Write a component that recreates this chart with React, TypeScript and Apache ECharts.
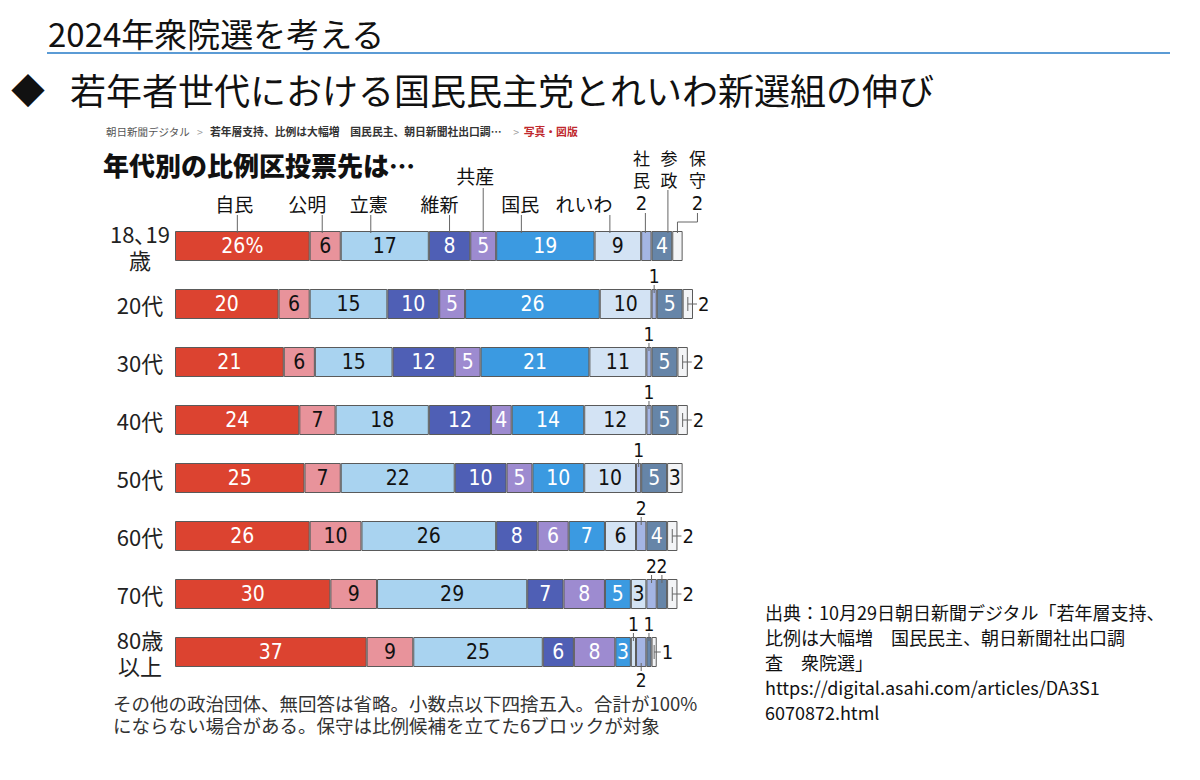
import React, { useEffect, useRef } from 'react';
import * as echarts from 'echarts';

// ---- data ----
const ageLabels = ['18､19\n歳', '20代', '30代', '40代', '50代', '60代', '70代', '80歳\n以上'];
const partyNames = ['自民', '公明', '立憲', '維新', '共産', '国民', 'れいわ', '社民', '参政', '保守'];
const jimin = [26, 20, 21, 24, 25, 26, 30, 37];
const komei = [6, 6, 6, 7, 7, 10, 9, 9];
const rikken = [17, 15, 15, 18, 22, 26, 29, 25];
const ishin = [8, 10, 12, 12, 10, 8, 7, 6];
const kyosan = [5, 5, 5, 4, 5, 6, 8, 8];
const kokumin = [19, 26, 21, 14, 10, 7, 5, 3];
const reiwa = [9, 10, 11, 12, 10, 6, 3, 1];
const shamin = [2, 1, 1, 1, 1, 2, 2, 2];
const sansei = [4, 5, 5, 5, 5, 4, 2, 1];
const hoshu = [2, 2, 2, 2, 3, 2, 2, 1];

const footnoteLines = [
  'その他の政治団体、無回答は省略。小数点以下四捨五入。合計が100%',
  'にならない場合がある。保守は比例候補を立てた6ブロックが対象',
];
const sourceLines = [
  '出典：10月29日朝日新聞デジタル「若年層支持、',
  '比例は大幅増　国民民主、朝日新聞社出口調',
  '査　衆院選」',
  'https://digital.asahi.com/articles/DA3S1',
  '6070872.html',
];

// ---- styles ----
const partyColors = ['#dc4330', '#e8939b', '#a9d3f0', '#4f5fb5', '#9d8bd0', '#3b9ae1', '#d3e3f4', '#a4b5e4', '#6685a8', '#f3f4f6'];
const labelColors = ['#fff', '#111', '#111', '#fff', '#fff', '#fff', '#111', '#111', '#fff', '#111'];
const NUM_FONT = "'Liberation Sans Narrow', 'Arial Narrow', 'DejaVu Sans Condensed', Roboto, sans-serif";
const JP_FONT = "'Noto Sans CJK JP', sans-serif";
// header label tweaks (pixels): leader-line offset from segment centre, label offset from line
const headLineDx = [-5, -3, -14, 0, 0, -24, -8, -1, 6, 0];
const headLabelDx = [-3, -15, -2, -10, -8, -1, -26, -4, 1, 0];

export default function App() {
  const ref = useRef<HTMLDivElement>(null);
  useEffect(() => {
    const chart = echarts.init(ref.current!, null, { renderer: 'svg' });
    const seriesData = [jimin, komei, rikken, ishin, kyosan, kokumin, reiwa, shamin, sansei, hoshu];

    chart.setOption({
      animation: false,
      backgroundColor: '#fff',
      grid: { left: 175, top: 217, width: 518, height: 464 },
      xAxis: { type: 'value', min: 0, max: 100, show: false },
      yAxis: {
        type: 'category',
        data: ageLabels,
        inverse: true,
        axisLine: { show: false },
        axisTick: { show: false },
        splitLine: { show: false },
        axisLabel: { fontSize: 22, color: '#222', fontFamily: JP_FONT, align: 'center', margin: 35, lineHeight: 26 },
      },
      series: partyNames.map((name, pi) => ({
        name,
        type: 'bar',
        stack: 'all',
        barWidth: 30,
        silent: true,
        data: seriesData[pi],
        itemStyle: { color: partyColors[pi], borderColor: '#5a5a5a', borderWidth: 1 },
        label: {
          show: true,
          position: 'inside',
          fontFamily: NUM_FONT,
          fontSize: 21,
          color: labelColors[pi],
          formatter: (p: any) =>
            p.value >= 3 ? (pi === 0 && p.dataIndex === 0 ? p.value + '%' : String(p.value)) : '',
        },
      })),
    });

    const px = (v: number, i: number) => chart.convertToPixel({ gridIndex: 0 }, [v, i]) as number[];
    const g: any[] = [];
    const txt = (text: string, x: number, y: number, size: number, extra: any = {}) =>
      g.push({
        type: 'text',
        z: 20,
        x,
        y,
        style: {
          text,
          fontSize: size,
          fontFamily: extra.fontFamily || JP_FONT,
          fontWeight: extra.fontWeight || 'normal',
          fill: extra.fill || '#111',
          align: extra.align || 'center',
          textAlign: extra.align || 'center',
          verticalAlign: 'middle',
          textVerticalAlign: 'middle',
          lineHeight: extra.lineHeight,
          rich: extra.rich,
        },
      });
    const ln = (x1: number, y1: number, x2: number, y2: number) =>
      g.push({ type: 'line', z: 20, shape: { x1, y1, x2, y2 }, style: { stroke: '#666', lineWidth: 1 } });
    // vertical (top-to-bottom) label: one text per character
    const vtxt = (name: string, x: number, yFirst: number) =>
      name.split('').forEach((ch, k) => txt(ch, x, yFirst + k * 22, 17));

    // page header
    txt('2024年衆院選を考える', 48, 33, 33, { align: 'left' });
    g.push({ type: 'line', z: 20, shape: { x1: 47, y1: 53, x2: 1170, y2: 53 }, style: { stroke: '#5b9bd5', lineWidth: 2 } });
    txt('◆', 28, 89, 34, { align: 'center' });
    txt('若年者世代における国民民主党とれいわ新選組の伸び', 70, 89, 36, { align: 'left' });

    // breadcrumb
    txt('{g|朝日新聞デジタル}   {s|>}   {b|若年層支持、比例は大幅増　国民民主、朝日新聞社出口調…}     {s|>}  {r|写真・図版}', 106, 131, 10.5, {
      align: 'left',
      rich: {
        g: { fontSize: 10.5, fill: '#555', fontFamily: JP_FONT },
        s: { fontSize: 10.5, fill: '#999', fontFamily: JP_FONT },
        b: { fontSize: 10.8, fill: '#333', fontWeight: 'bold', fontFamily: JP_FONT },
        r: { fontSize: 10.8, fill: '#c0282d', fontWeight: 'bold', fontFamily: JP_FONT },
      },
    });
    txt('年代別の比例区投票先は…', 103, 164, 26, { align: 'left', fontWeight: 900 });

    // cumulative positions
    const cum: number[][] = ageLabels.map((_, r) => {
      let s = 0;
      return seriesData.map((arr) => {
        const start = s;
        s += arr[r];
        return start;
      });
    });
    const segCenter = (r: number, p: number) => px(cum[r][p] + seriesData[p][r] / 2, r);
    const rowEnd = (r: number) => px(cum[r][9] + seriesData[9][r], r);

    // header labels on first row
    {
      const r = 0;
      const cy = px(0, r)[1];
      const top = cy - 15;
      partyNames.forEach((name, p) => {
        const [sx] = segCenter(r, p);
        const lx = sx + headLineDx[p];
        const tx = lx + headLabelDx[p];
        if (p <= 6) {
          const high = p === 4;
          const ty = high ? cy - 71 : cy - 43;
          txt(name, tx, ty, 19);
          ln(lx, high ? cy - 58 : cy - 31, lx, top + 2);
        } else if (p === 7 || p === 8) {
          vtxt(name, tx, cy - 89);
          if (p === 7) {
            txt(String(seriesData[p][r]), tx, cy - 43, 20, { fontFamily: NUM_FONT });
            ln(lx, cy - 33, lx, top + 2);
          } else {
            ln(lx, cy - 56, lx, top + 2);
          }
        } else {
          const hx = sx + 20;
          vtxt(name, hx, cy - 89);
          txt(String(seriesData[p][r]), hx, cy - 43, 20, { fontFamily: NUM_FONT });
          g.push({
            type: 'polyline',
            z: 20,
            shape: { points: [[hx, cy - 33], [hx, cy - 24], [sx, cy - 24], [sx, top + 2]] },
            style: { stroke: '#666', lineWidth: 1, fill: null },
          });
        }
      });
    }

    // outside small labels for other rows
    for (let r = 1; r < ageLabels.length; r++) {
      const cy = px(0, r)[1];
      let lastAboveX = -999;
      let lastWasAbove = false;
      for (const p of [6, 7, 8]) {
        const v = seriesData[p][r];
        if (v >= 3) {
          lastWasAbove = false;
          continue;
        }
        const [sx] = segCenter(r, p);
        const below = lastWasAbove && sx - lastAboveX < 10;
        if (below) {
          txt(String(v), sx, cy + 28, 19, { fontFamily: NUM_FONT });
          ln(sx, cy + 11, sx, cy + 19);
          lastWasAbove = false;
        } else {
          txt(String(v), sx, cy - 28, 19, { fontFamily: NUM_FONT });
          ln(sx, cy - 19, sx, cy - 11);
          lastAboveX = sx;
          lastWasAbove = true;
        }
      }
      const hv = seriesData[9][r];
      if (hv < 3) {
        const [hx] = segCenter(r, 9);
        const [ex] = rowEnd(r);
        ln(hx, cy - 7, hx, cy + 7);
        ln(hx, cy, ex + 4, cy);
        txt(String(hv), ex + 5, cy, 20, { fontFamily: NUM_FONT, align: 'left' });
      }
    }

    // footnote
    footnoteLines.forEach((l, i) => txt(l, 113, 703 + i * 22, 18.5, { align: 'left', fill: '#333' }));
    // source
    sourceLines.forEach((l, i) => txt(l, 765, 612 + i * 25, 18, { align: 'left', fill: '#111' }));

    chart.setOption({ graphic: { elements: g } });
    return () => chart.dispose();
  }, []);
  return <div ref={ref} style={{ position: 'fixed', left: 0, top: 0, width: 1200, height: 780, background: '#fff' }} />;
}
